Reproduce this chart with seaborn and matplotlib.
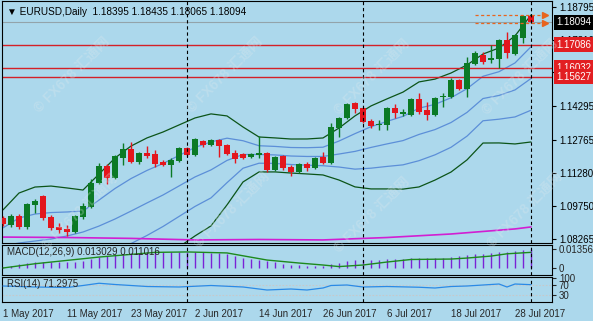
import numpy as np
import pandas as pd
import matplotlib
matplotlib.use("Agg")
import matplotlib.pyplot as plt
import matplotlib.transforms as mtransforms
import seaborn as sns

# ---------------- data ----------------
dates = pd.bdate_range("2017-05-01", "2017-08-01")

opens = [1.0922,1.0890,1.0931,1.0881,1.0981,1.1022,1.0926,1.0881,1.0872,1.0858,1.0926,1.0972,1.1081,1.1158,1.1103,
         1.1194,1.1235,1.1176,1.1217,1.1212,1.1176,1.1162,1.1180,1.1239,1.1208,1.1271,1.1253,1.1276,1.1253,1.1217,
         1.1212,1.1199,1.1208,1.1217,1.1140,1.1203,1.1153,1.1130,1.1167,1.1149,1.1199,1.1171,1.1330,1.1376,1.1444,
         1.1421,1.1362,1.1344,1.1344,1.1421,1.1394,1.1389,1.1462,1.1412,1.1389,1.1471,1.1471,1.1548,1.1507,1.1621,
         1.1662,1.1639,1.1643,1.1730,1.1666,1.1739,1.18395]
highs = [1.0931,1.0940,1.0940,1.0990,1.1008,1.1026,1.0935,1.0899,1.0890,1.0935,1.0990,1.1099,1.1171,1.1167,1.1208,
         1.1262,1.1267,1.1221,1.1248,1.1230,1.1185,1.1194,1.1244,1.1244,1.1285,1.1276,1.1280,1.1280,1.1258,1.1230,
         1.1217,1.1217,1.1294,1.1221,1.1203,1.1208,1.1162,1.1171,1.1176,1.1199,1.1221,1.1353,1.1380,1.1444,1.1448,
         1.1426,1.1371,1.1367,1.1426,1.1439,1.1416,1.1466,1.1489,1.1448,1.1471,1.1489,1.1557,1.1553,1.1653,1.1680,
         1.1675,1.1707,1.1734,1.1766,1.1757,1.1845,1.18435]
lows = [1.0885,1.0881,1.0872,1.0872,1.0944,1.0913,1.0867,1.0853,1.0840,1.0853,1.0917,1.0967,1.1076,1.1076,1.1099,
        1.1162,1.1171,1.1167,1.1194,1.1153,1.1158,1.1108,1.1176,1.1203,1.1203,1.1244,1.1248,1.1199,1.1208,1.1171,
        1.1189,1.1194,1.1194,1.1130,1.1135,1.1140,1.1112,1.1126,1.1135,1.1144,1.1167,1.1167,1.1289,1.1371,1.1398,
        1.1353,1.1330,1.1321,1.1321,1.1376,1.1385,1.1385,1.1394,1.1367,1.1385,1.1426,1.1466,1.1503,1.1471,1.1616,
        1.1621,1.1625,1.1603,1.1648,1.1662,1.1716,1.18065]
closes = [1.0894,1.0931,1.0881,1.0985,1.0999,1.0922,1.0876,1.0867,1.0858,1.0931,1.0976,1.1081,1.1158,1.1103,1.1203,
          1.1235,1.1176,1.1217,1.1203,1.1167,1.1162,1.1185,1.1239,1.1208,1.1280,1.1253,1.1276,1.1248,1.1212,1.1189,
          1.1194,1.1212,1.1217,1.1140,1.1199,1.1149,1.1130,1.1167,1.1149,1.1194,1.1171,1.1335,1.1376,1.1439,1.1416,
          1.1357,1.1339,1.1348,1.1421,1.1398,1.1403,1.1462,1.1403,1.1389,1.1466,1.1476,1.1548,1.1507,1.1625,1.1671,
          1.1630,1.1648,1.1730,1.1671,1.1752,1.1838,1.18094]

# Bollinger (20) middle line and standard deviation, read every 2 bars
bb_bars = list(range(0, 67, 2))
bb_mid = [1.0795,1.0808,1.0817,1.0826,1.0840,1.0858,1.0885,1.0917,1.0953,1.0990,1.1026,1.1067,1.1108,1.1140,1.1183,
          1.1210,1.1210,1.1208,1.1203,1.1201,1.1201,1.1212,1.1224,1.1242,1.1258,1.1273,1.1301,1.1323,1.1355,1.1401,
          1.1464,1.1478,1.1503,1.1555]
bb_sd = [0.00817,0.01135,0.01226,0.01203,0.01090,0.00953,0.01180,0.01385,0.01476,0.01476,0.01430,0.01385,0.01339,
         0.01271,0.01010,0.00624,0.00397,0.00386,0.00386,0.00397,0.00420,0.00590,0.00806,0.00942,0.01022,0.01101,
         0.01192,0.01146,0.01124,0.01078,0.01010,0.01078,0.01226,0.01441]

# long moving average (magenta)
ma_bars = [0, 8, 16, 24, 32, 40, 48, 56, 64, 66]
ma_vals = [1.0835, 1.0833, 1.0829, 1.0822, 1.0824, 1.0822, 1.0833, 1.0849, 1.0872, 1.0881]

# MACD(12,26,9)
macd_main = [0.0009,0.0016,0.0025,0.0032,0.0039,0.0039,0.0039,0.0039,0.0039,0.0042,0.0049,0.0063,0.0074,0.0081,0.0092,
             0.0099,0.0106,0.0109,0.0113,0.0113,0.0113,0.0113,0.0113,0.0113,0.0113,0.0113,0.0109,0.0106,0.0099,0.0084,
             0.0070,0.0063,0.0056,0.0046,0.0039,0.0028,0.0021,0.0018,0.0014,0.0014,0.0014,0.0028,0.0035,0.0046,0.0053,
             0.0056,0.0056,0.0056,0.0060,0.0063,0.0063,0.0067,0.0067,0.0067,0.0070,0.0070,0.0077,0.0081,0.0092,0.0099,
             0.0102,0.0106,0.0113,0.0116,0.0120,0.0127,0.013029]
sig_bars = [0, 4, 12, 19, 23, 28, 33, 37, 40, 42, 45, 48, 51, 56, 58, 61, 63, 66]
sig_vals = [0.0000,0.0030,0.0077,0.0110,0.0113,0.0106,0.0056,0.0035,0.0021,0.0010,0.0021,0.0042,0.0060,0.0063,
            0.0070,0.0084,0.0100,0.011016]

# RSI(14)
rsi_bars = [0,4,8,10,12,14,18,22,26,30,33,36,38,40,41,43,45,48,52,54,56,58,60,62,63,64,66]
rsi_vals = [66,62,60,68,77,72,64,62,68,62,50,54,50,58,68,70,62,64,61,58,64,66,70,74,62,74,71.2975]

levels = [1.17086, 1.16032, 1.15627]
bid = 1.18094
price_ticks = [1.18795, 1.17310, 1.15825, 1.14295, 1.12765, 1.11280, 1.09750, 1.08265]
date_ticks = [0, 8, 16, 24, 32, 40, 48, 56, 64]
date_labels = ["1 May 2017", "11 May 2017", "23 May 2017", "2 Jun 2017", "14 Jun 2017",
               "26 Jun 2017", "6 Jul 2017", "18 Jul 2017", "28 Jul 2017"]
separators = [23, 45, 66]
arrow_prices = [1.18435, 1.18065]

# ---------------- style ----------------
BG = "#acd8ec"
BULL = "#0b7a25"
BEAR = "#e3161d"
BB2 = "#0c5418"
BB1 = "#5c8fd8"
MA = "#d21ed2"
LVL = "#d42027"
HIST = "#7a22d6"
SIG = "#1d8a1d"
RSIC = "#2a8ae6"

sns.set_style("white")
plt.rcParams["font.family"] = ["Liberation Sans", "DejaVu Sans", "Noto Sans CJK SC"]
plt.rcParams["font.size"] = 7

W, H = 593, 321
fig = plt.figure(figsize=(W / 100, H / 100), dpi=100, facecolor=BG)


def px_axes(x0, y0, x1, y1):
    ax = fig.add_axes([x0 / W, 1 - y1 / H, (x1 - x0) / W, (y1 - y0) / H])
    ax.set_facecolor(BG)
    for s in ax.spines.values():
        s.set_color("black")
        s.set_linewidth(0.8)
    return ax


main = px_axes(2, 1, 552, 243)
macd_ax = px_axes(2, 245, 552, 275)
rsi_ax = px_axes(2, 277, 552, 302)

XL = (-0.125, 68.625)
for ax in (main, macd_ax, rsi_ax):
    ax.set_xlim(*XL)

# ---------------- main panel ----------------
o = np.array(opens); h = np.array(highs); l = np.array(lows); c = np.array(closes)
idx = np.arange(len(o))
cols = np.where(c >= o, BULL, BEAR)
main.vlines(idx, l, h, colors=cols, lw=1, zorder=3)
main.bar(idx, np.maximum(np.abs(c - o), 0.00018), bottom=np.minimum(o, c), width=0.64,
         color=cols, linewidth=0, zorder=4)

mid = np.array(bb_mid); sd = np.array(bb_sd)
for k, col in ((2, BB2), (-2, BB2), (1, BB1), (0, BB1), (-1, BB1)):
    sns.lineplot(x=bb_bars, y=mid + k * sd, ax=main, color=col, lw=0.9, legend=False, zorder=2)
sns.lineplot(x=ma_bars, y=ma_vals, ax=main, color=MA, lw=1.2, legend=False, zorder=2)

for lv in levels:
    main.axhline(lv, color=LVL, lw=1, zorder=2)
main.axhline(bid, color="#93a3aa", lw=0.8, zorder=1)

for ap in arrow_prices:
    main.plot([59, 67.4], [ap, ap], color="#e8641e", lw=0.9, ls=(0, (2.5, 2)), zorder=5)
    main.plot([67.8], [ap], marker=">", color="#e8641e", ms=4, zorder=5, clip_on=False)

main.set_ylim(1.08081, 1.19068)
main.yaxis.tick_right()
main.set_yticks(price_ticks)
main.set_yticklabels([f"{p:.5f}" for p in price_ticks])
main.tick_params(axis="y", direction="out", length=3, width=0.8, labelsize=7, pad=2, colors="black")
main.tick_params(axis="x", bottom=False, labelbottom=False)
main.set_xlabel(""); main.set_ylabel("")

trans = mtransforms.blended_transform_factory(main.transAxes, main.transData)
main.text(1.0075, bid, f"{bid:.5f}", transform=trans, color="white", va="center", ha="left",
          fontsize=7, clip_on=False, zorder=6,
          bbox=dict(boxstyle="square,pad=0.25", fc="black", ec="none"))
for lv in levels:
    main.text(1.0075, lv, f"{lv:.5f}", transform=trans, color="white", va="center", ha="left",
              fontsize=7, clip_on=False, zorder=6,
              bbox=dict(boxstyle="square,pad=0.25", fc="#e21f22", ec="none"))

main.text(0.009, 0.955, "\u25BC EURUSD,Daily  1.18395 1.18435 1.18065 1.18094", transform=main.transAxes,
          fontsize=7.2, va="center", ha="left", color="black", zorder=6)

# ---------------- MACD ----------------
macd_ax.vlines(idx, 0, macd_main, colors=HIST, lw=1, zorder=2)
sns.lineplot(x=sig_bars, y=sig_vals, ax=macd_ax, color=SIG, lw=1, legend=False, zorder=3)
macd_ax.set_ylim(-0.00493, 0.01619)
macd_ax.yaxis.tick_right()
macd_ax.set_yticks([0.01356, 0])
macd_ax.set_yticklabels(["0.01356", "0"])
macd_ax.tick_params(axis="y", direction="out", length=3, width=0.8, labelsize=7, pad=2)
macd_ax.tick_params(axis="x", bottom=False, labelbottom=False)
macd_ax.set_xlabel(""); macd_ax.set_ylabel("")
macd_ax.text(0.009, 0.78, "MACD(12,26,9) 0.013029 0.011016", transform=macd_ax.transAxes,
             fontsize=7, va="center", ha="left", zorder=6)

# ---------------- RSI ----------------
for lv in (70, 30):
    rsi_ax.axhline(lv, color="#c8c8c8", lw=0.8, ls=(0, (1.5, 1.5)), zorder=1)
sns.lineplot(x=rsi_bars, y=rsi_vals, ax=rsi_ax, color=RSIC, lw=0.9, legend=False, zorder=3)
rsi_ax.set_ylim(2, 102)
rsi_ax.yaxis.tick_right()
rsi_ax.set_yticks([100, 70, 30])
rsi_ax.set_yticklabels(["100", "70", "30"])
rsi_ax.tick_params(axis="y", direction="out", length=3, width=0.8, labelsize=7, pad=2)
rsi_ax.set_xticks(date_ticks)
rsi_ax.set_xticklabels(date_labels, ha="left")
rsi_ax.tick_params(axis="x", direction="out", length=3, width=0.8, labelsize=7, pad=2)
rsi_ax.set_xlabel(""); rsi_ax.set_ylabel("")
rsi_ax.text(0.009, 0.72, "RSI(14) 71.2975", transform=rsi_ax.transAxes,
            fontsize=7, va="center", ha="left", zorder=6)

for ax in (main, macd_ax, rsi_ax):
    for s in separators:
        ax.axvline(s, color="black", lw=0.8, ls=(0, (3, 2.5)), zorder=5)
    ax.set_xlim(*XL)

# ---------------- watermarks ----------------
for (wx, wy) in [(72, 75), (225, 75), (372, 77), (520, 77), (80, 212), (232, 210), (372, 215), (525, 210)]:
    fig.text(wx / W, 1 - wy / H, "\u00a9 FX678 汇通网", rotation=45, fontsize=10, color="#dfe9ee",
             alpha=0.3, ha="center", va="center", fontweight="bold", zorder=10)

fig.savefig("out.png", dpi=100, facecolor=BG)
